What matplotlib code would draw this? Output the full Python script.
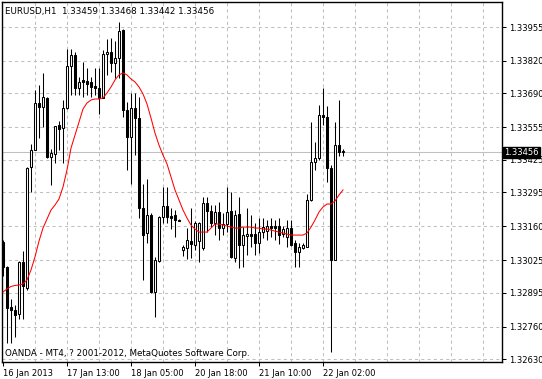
import numpy as np
import matplotlib
matplotlib.use('Agg')
import matplotlib.pyplot as plt
import matplotlib.transforms as mtransforms

# EURUSD H1 bars (open, high, low, close)
opens = [1.33097, 1.32998, 1.32838, 1.32826, 1.32810, 1.33018, 1.32914, 1.33397,
         1.33464, 1.33652, 1.33636, 1.33672, 1.33437, 1.33448, 1.33564, 1.33552,
         1.33632, 1.33800, 1.33844, 1.33712, 1.33744, 1.33740, 1.33736, 1.33720,
         1.33712, 1.33672, 1.33847, 1.33855, 1.33812, 1.33832, 1.33943, 1.33624,
         1.33516, 1.33632, 1.33592, 1.33233, 1.33133, 1.33205, 1.32898, 1.33022,
         1.33197, 1.33241, 1.33201, 1.33205, 1.33185, 1.33066, 1.33073, 1.33101,
         1.33085, 1.33101, 1.33073, 1.33253, 1.33221, 1.33173, 1.33217, 1.33153,
         1.33169, 1.33221, 1.33034, 1.33209, 1.33085, 1.33121, 1.33129, 1.33129,
         1.33093, 1.33137, 1.33141, 1.33161, 1.33161, 1.33161, 1.33129, 1.33117,
         1.33153, 1.33093, 1.33058, 1.33073, 1.33077, 1.33265, 1.33417, 1.33433,
         1.33604, 1.33596, 1.33393, 1.33026, 1.33484, 1.33459]
highs = [1.33105, 1.33002, 1.32870, 1.32846, 1.33022, 1.33062, 1.33397, 1.33488,
         1.33704, 1.33724, 1.33772, 1.33676, 1.33468, 1.33560, 1.33580, 1.33664,
         1.33867, 1.33867, 1.33855, 1.33756, 1.33816, 1.33792, 1.33756, 1.33792,
         1.33792, 1.33864, 1.33907, 1.33911, 1.33899, 1.33975, 1.33947, 1.33656,
         1.33692, 1.33692, 1.33676, 1.33329, 1.33349, 1.33213, 1.33038, 1.33201,
         1.33317, 1.33317, 1.33233, 1.33225, 1.33189, 1.33085, 1.33153, 1.33233,
         1.33181, 1.33177, 1.33277, 1.33277, 1.33245, 1.33245, 1.33257, 1.33213,
         1.33317, 1.33297, 1.33225, 1.33277, 1.33157, 1.33233, 1.33205, 1.33173,
         1.33193, 1.33193, 1.33185, 1.33193, 1.33185, 1.33193, 1.33161, 1.33185,
         1.33185, 1.33105, 1.33093, 1.33093, 1.33289, 1.33576, 1.33496, 1.33644,
         1.33712, 1.33640, 1.33405, 1.33576, 1.33664, 1.33468]
lows = [1.32962, 1.32694, 1.32694, 1.32718, 1.32790, 1.32790, 1.32906, 1.33297,
        1.33464, 1.33512, 1.33556, 1.33433, 1.33325, 1.33413, 1.33464, 1.33413,
        1.33628, 1.33684, 1.33684, 1.33684, 1.33676, 1.33684, 1.33676, 1.33684,
        1.33608, 1.33672, 1.33764, 1.33776, 1.33752, 1.33752, 1.33596, 1.33385,
        1.33329, 1.33444, 1.33193, 1.32946, 1.33093, 1.32894, 1.32798, 1.33018,
        1.33173, 1.33173, 1.33149, 1.33117, 1.33181, 1.33042, 1.33030, 1.33034,
        1.33066, 1.33018, 1.33066, 1.33137, 1.33157, 1.33125, 1.33105, 1.33125,
        1.33137, 1.33034, 1.33018, 1.32994, 1.32998, 1.33046, 1.33077, 1.33046,
        1.33053, 1.33113, 1.33105, 1.33117, 1.33105, 1.33089, 1.33117, 1.33077,
        1.33081, 1.32998, 1.32998, 1.33070, 1.33077, 1.33261, 1.33385, 1.33425,
        1.33564, 1.33337, 1.32659, 1.33026, 1.33441, 1.33442]
closes = [1.32998, 1.32834, 1.32826, 1.32806, 1.33018, 1.32922, 1.33393, 1.33464,
          1.33652, 1.33636, 1.33676, 1.33437, 1.33452, 1.33560, 1.33548, 1.33632,
          1.33800, 1.33844, 1.33712, 1.33736, 1.33736, 1.33728, 1.33716, 1.33712,
          1.33672, 1.33847, 1.33855, 1.33812, 1.33832, 1.33939, 1.33624, 1.33516,
          1.33632, 1.33592, 1.33233, 1.33125, 1.33205, 1.32898, 1.33026, 1.33197,
          1.33241, 1.33197, 1.33193, 1.33185, 1.33183, 1.33077, 1.33105, 1.33089,
          1.33173, 1.33173, 1.33253, 1.33221, 1.33173, 1.33217, 1.33153, 1.33169,
          1.33217, 1.33038, 1.33205, 1.33085, 1.33125, 1.33129, 1.33123, 1.33093,
          1.33137, 1.33157, 1.33161, 1.33153, 1.33153, 1.33125, 1.33149, 1.33153,
          1.33085, 1.33058, 1.33077, 1.33085, 1.33265, 1.33417, 1.33433, 1.33604,
          1.33596, 1.33393, 1.33026, 1.33484, 1.33456, 1.33456]
# red moving average
ma = [1.32898, 1.32910, 1.32920, 1.32924, 1.32926, 1.32930, 1.32946, 1.32986,
      1.33038, 1.33101, 1.33153, 1.33189, 1.33225, 1.33245, 1.33269, 1.33317,
      1.33385, 1.33472, 1.33524, 1.33576, 1.33628, 1.33652, 1.33664, 1.33668,
      1.33668, 1.33672, 1.33692, 1.33716, 1.33744, 1.33764, 1.33772, 1.33764,
      1.33748, 1.33736, 1.33716, 1.33688, 1.33648, 1.33592, 1.33532, 1.33484,
      1.33444, 1.33409, 1.33357, 1.33305, 1.33265, 1.33225, 1.33193, 1.33165,
      1.33149, 1.33137, 1.33137, 1.33137, 1.33153, 1.33169, 1.33169, 1.33165,
      1.33161, 1.33157, 1.33153, 1.33153, 1.33157, 1.33157, 1.33157, 1.33153,
      1.33153, 1.33149, 1.33149, 1.33145, 1.33141, 1.33137, 1.33133, 1.33129,
      1.33125, 1.33125, 1.33125, 1.33125, 1.33133, 1.33157, 1.33185, 1.33217,
      1.33237, 1.33249, 1.33249, 1.33261, 1.33285, 1.33305]

ytick_vals = [1.32630, 1.32760, 1.32895, 1.33025, 1.33160, 1.33295,
              1.33425, 1.33555, 1.33690, 1.33820, 1.33955]
xtick_pos = [0, 16, 32, 48, 64, 80]
xtick_labels = ['16 Jan 2013', '17 Jan 13:00', '18 Jan 05:00',
                '20 Jan 18:00', '21 Jan 10:00', '22 Jan 02:00']
last_price = 1.33456
title = 'EURUSD,H1  1.33459 1.33468 1.33442 1.33456'
footer = 'OANDA - MT4, ? 2001-2012, MetaQuotes Software Corp.'

plt.rcParams['font.family'] = 'DejaVu Sans'
W, H = 542, 379
fig = plt.figure(figsize=(W / 100, H / 100), dpi=100)
ax = fig.add_axes([2 / W, 17 / H, 500 / W, 360 / H])

idx = np.arange(len(opens))
o = np.array(opens)
c = np.array(closes)
lw = 0.75

# grid
grid_kw = dict(color='#c0c0c0', lw=lw, linestyle=(0, (3, 3)), zorder=0)
for v in range(8, 125, 8):
    ax.axvline(v, **grid_kw)
for v in ytick_vals:
    ax.axhline(v, **grid_kw)
ax.axhline(last_price, color='#c0c0c0', lw=lw, zorder=1)

# candles
ax.vlines(idx, lows, highs, color='black', lw=lw, zorder=2)
face = ['white' if cc >= oo else 'black' for oo, cc in zip(o, c)]
ax.bar(idx, c - o, bottom=o, width=0.5, color=face, edgecolor='black',
       linewidth=lw, zorder=3)
ax.plot(idx, ma, color='red', lw=lw, zorder=4)

ax.set_xlim(-0.25, 124.75)
ax.set_ylim(1.326186, 1.34055)

ax.yaxis.tick_right()
ax.set_yticks(ytick_vals)
ax.set_yticklabels(['%.5f' % v for v in ytick_vals])
ax.set_xticks(xtick_pos)
ax.set_xticklabels(xtick_labels, ha='left')
ax.tick_params(axis='both', length=3, width=lw, labelsize=6, pad=2, colors='black')
for s in ax.spines.values():
    s.set_linewidth(1)
    s.set_color('black')

ax.text(0.006, 0.973, title, transform=ax.transAxes, fontsize=6.3,
        va='center', ha='left')
ax.text(0.006, 0.025, footer, transform=ax.transAxes, fontsize=6.3,
        va='center', ha='left')

tr = mtransforms.blended_transform_factory(ax.transAxes, ax.transData)
ax.text(1.004, last_price, '%.5f' % last_price, transform=tr, fontsize=6,
        color='white', va='center', ha='left', zorder=10, clip_on=False,
        bbox=dict(facecolor='black', edgecolor='black', pad=0.8))

fig.savefig('out.png', dpi=100)
